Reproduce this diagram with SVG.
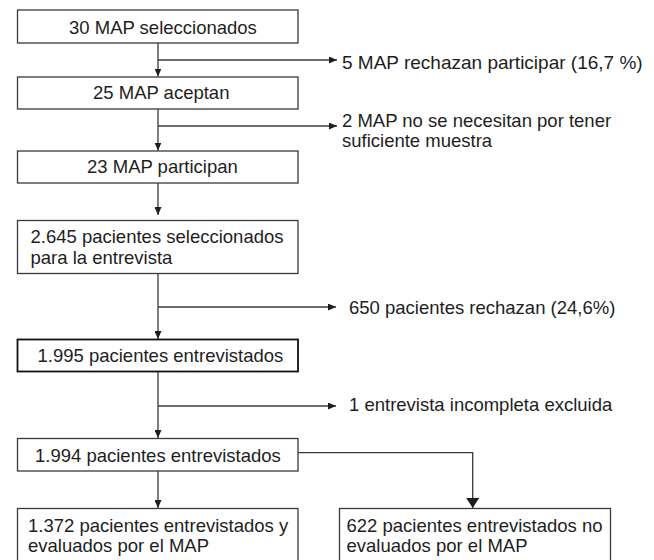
<svg xmlns="http://www.w3.org/2000/svg" width="654" height="560" viewBox="0 0 654 560">
<style>
.box{fill:#fff;stroke:#3a3a3a;stroke-width:1.3}
.bold{stroke:#111;stroke-width:1.8}
.t{font-family:"Liberation Sans",Arial,Helvetica,sans-serif;font-size:18.5px;fill:#1e1e1e}
.c{fill:none;stroke:#3a3a3a;stroke-width:1.3}
</style>
<defs>
<marker id="a" markerUnits="userSpaceOnUse" markerWidth="8" markerHeight="7" refX="8" refY="3.5" orient="auto" viewBox="0 0 8 7"><path d="M0,0 L8,3.5 L0,7 z" fill="#1e1e1e"/></marker>
<marker id="b" markerUnits="userSpaceOnUse" markerWidth="10" markerHeight="13" refX="10" refY="6.5" orient="auto" viewBox="0 0 10 13"><path d="M0,0 L10,6.5 L0,13 z" fill="#1e1e1e"/></marker>
</defs>
<rect x="0" y="0" width="654" height="560" fill="#fff"/>
<g id="connectors">
<path class="c" d="M158,43 V76.5" marker-end="url(#a)"/>
<path class="c" d="M158,109 V150.5" marker-end="url(#a)"/>
<path class="c" d="M158,183 V215" marker-end="url(#a)"/>
<path class="c" d="M158,273.5 V339" marker-end="url(#a)"/>
<path class="c" d="M158,371.5 V438" marker-end="url(#a)"/>
<path class="c" d="M158,471 V508" marker-end="url(#a)"/>
<path class="c" d="M158,60 H337" marker-end="url(#a)"/>
<path class="c" d="M158,126 H337" marker-end="url(#a)"/>
<path class="c" d="M158,307 H336" marker-end="url(#a)"/>
<path class="c" d="M158,406 H336" marker-end="url(#a)"/>
<path class="c" d="M298,452.7 H472.7 V508" marker-end="url(#b)"/>
</g>
<g id="n1"><rect class="box" x="17.5" y="10" width="280.5" height="33"/><text class="t" x="69" y="33.5">30 MAP seleccionados</text></g>
<g id="n2"><rect class="box" x="17.5" y="77" width="280.5" height="32"/><text class="t" x="93" y="99">25 MAP aceptan</text></g>
<g id="n3"><rect class="box" x="17.5" y="151" width="280.5" height="32"/><text class="t" x="87" y="172.5">23 MAP participan</text></g>
<g id="n4"><rect class="box" x="17.5" y="220.5" width="280.5" height="53"/><text class="t" x="30.5" y="243">2.645 pacientes seleccionados</text><text class="t" x="30.5" y="264">para la entrevista</text></g>
<g id="n5"><rect class="box bold" x="17.5" y="339.5" width="280.5" height="32"/><text class="t" x="37.5" y="361.5">1.995 pacientes entrevistados</text></g>
<g id="n6"><rect class="box" x="17.5" y="438.5" width="280.5" height="32.5"/><text class="t" x="35" y="461.5">1.994 pacientes entrevistados</text></g>
<g id="n7"><rect class="box" x="17.5" y="508.5" width="280.5" height="62"/><text class="t" x="28" y="531.5">1.372 pacientes entrevistados y</text><text class="t" x="28" y="551.5">evaluados por el MAP</text></g>
<g id="n8"><rect class="box" x="339.5" y="508.5" width="271" height="62"/><text class="t" x="346.5" y="531.5">622 pacientes entrevistados no</text><text class="t" x="346.5" y="551.5">evaluados por el MAP</text></g>
<g id="s1"><text class="t" x="342" y="68.5" style="font-size:19px">5 MAP rechazan participar (16,7 %)</text></g>
<g id="s2"><text class="t" x="342" y="127">2 MAP no se necesitan por tener</text><text class="t" x="342" y="147">suficiente muestra</text></g>
<g id="s3"><text class="t" x="349" y="313.5">650 pacientes rechazan (24,6%)</text></g>
<g id="s4"><text class="t" x="349" y="410.5">1 entrevista incompleta excluida</text></g>
</svg>
